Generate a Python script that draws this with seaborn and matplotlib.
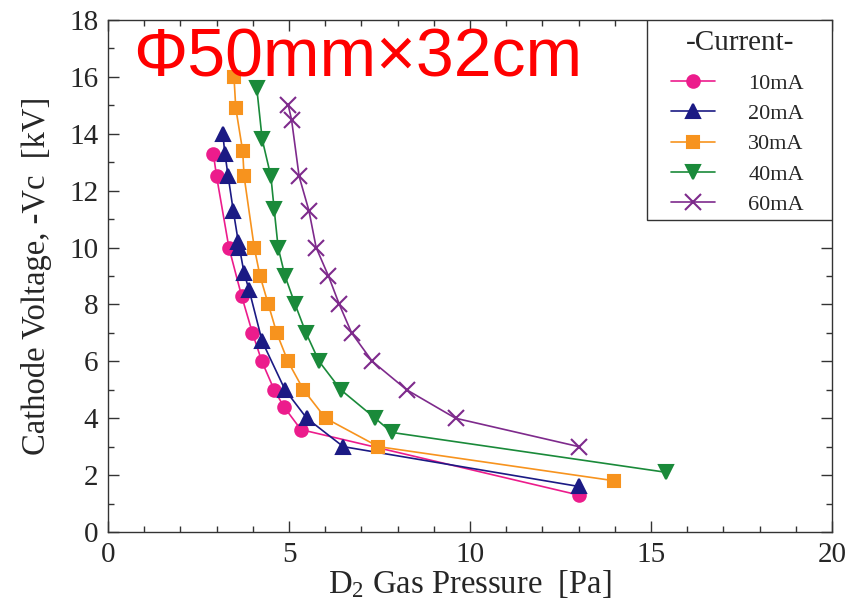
import numpy as np
import pandas as pd
import matplotlib
matplotlib.use("Agg")
import matplotlib.pyplot as plt
import seaborn as sns
from matplotlib.ticker import MultipleLocator
from matplotlib.patches import Rectangle

# ---- data ----
currents = ["10mA", "20mA", "30mA", "40mA", "60mA"]
p10 = [2.91, 3.00, 3.34, 3.69, 3.99, 4.25, 4.59, 4.86, 5.33, 13.00]
v10 = [13.3, 12.5, 10.0, 8.3, 7.0, 6.0, 5.0, 4.4, 3.6, 1.3]
p20 = [3.17, 3.23, 3.32, 3.46, 3.60, 3.63, 3.76, 3.90, 4.26, 4.89, 5.49, 6.50, 13.01]
v20 = [14.0, 13.3, 12.5, 11.3, 10.2, 10.0, 9.1, 8.5, 6.7, 5.0, 4.0, 3.0, 1.6]
p30 = [3.48, 3.53, 3.72, 3.76, 4.04, 4.20, 4.43, 4.66, 4.97, 5.40, 6.01, 7.47, 13.99]
v30 = [16.0, 14.9, 13.4, 12.5, 10.0, 9.0, 8.0, 7.0, 6.0, 5.0, 4.0, 3.0, 1.8]
p40 = [4.11, 4.26, 4.50, 4.59, 4.70, 4.89, 5.17, 5.47, 5.83, 6.43, 7.38, 7.84, 15.41]
v40 = [15.6, 13.8, 12.5, 11.35, 10.0, 9.0, 8.0, 7.0, 6.0, 5.0, 4.0, 3.5, 2.1]
p60 = [4.98, 5.07, 5.28, 5.55, 5.75, 6.09, 6.39, 6.73, 7.30, 8.25, 9.60, 13.01]
v60 = [15.0, 14.5, 12.5, 11.3, 10.0, 9.0, 8.0, 7.0, 6.0, 5.0, 4.0, 3.0]

pressures = [p10, p20, p30, p40, p60]
voltages = [v10, v20, v30, v40, v60]

colors = {"10mA": "#EC1C8C", "20mA": "#1B1A84", "30mA": "#F7931E",
          "40mA": "#1A8A3A", "60mA": "#7E2A8C"}
markers = {"10mA": "o", "20mA": "^", "30mA": "s", "40mA": "v", "60mA": "x"}
msizes = {"10mA": 9, "20mA": 10, "30mA": 9, "40mA": 10, "60mA": 11}

sns.set_style("white")
plt.rcParams["font.family"] = ["Liberation Serif", "DejaVu Serif"]
plt.rcParams["mathtext.fontset"] = "custom"
plt.rcParams["mathtext.rm"] = "Liberation Serif"
plt.rcParams["mathtext.it"] = "Liberation Serif"

fig = plt.figure(figsize=(8.58, 6.03), dpi=100)
ax = fig.add_axes([108 / 858, 1 - 532 / 603, 724 / 858, 512 / 603])

for c, ps, vs in zip(currents, pressures, voltages):
    d = pd.DataFrame({"Pressure": ps, "Voltage": vs})
    sns.lineplot(data=d, x="Pressure", y="Voltage", sort=False, estimator=None,
                 color=colors[c], marker=markers[c], markersize=msizes[c],
                 markeredgecolor=colors[c], markeredgewidth=1.5,
                 linewidth=1.2, label=c, ax=ax)

ax.set_xlim(0, 20)
ax.set_ylim(0, 18)
ax.xaxis.set_major_locator(MultipleLocator(5))
ax.xaxis.set_minor_locator(MultipleLocator(1))
ax.yaxis.set_major_locator(MultipleLocator(2))
ax.yaxis.set_minor_locator(MultipleLocator(1))
ax.tick_params(which="both", direction="in", top=True, right=True,
               bottom=True, left=True, color="#333333", width=1.0)
ax.tick_params(which="major", length=8, labelsize=21, pad=7)
ax.tick_params(which="minor", length=4.5)
for s in ax.spines.values():
    s.set_color("#333333")
    s.set_linewidth(1.0)

ax.set_xlabel(r"D$_2$ Gas Pressure  [Pa]", fontsize=23.5, labelpad=0)
ax.set_ylabel("Cathode Voltage, -Vc  [kV]", fontsize=23.5, labelpad=12)

ax.text(0.035, 0.988, "Φ50mm×32cm", transform=ax.transAxes, color="#FF0000",
        fontsize=49, family=["Liberation Sans", "DejaVu Sans"], va="top", ha="left")

# legend: frame + title + entries
frame = Rectangle((0.7445, 0.609), 0.2555, 0.391, transform=ax.transAxes,
                  facecolor="white", edgecolor="#333333", linewidth=1.0, zorder=4)
ax.add_patch(frame)
ax.text(0.873, 0.955, "-Current-", transform=ax.transAxes, fontsize=21,
        ha="center", va="center", zorder=5)
handles, labels = ax.get_legend_handles_labels()
leg = ax.legend(handles, labels, loc="upper left", bbox_to_anchor=(0.777, 0.896),
                borderaxespad=0.0, borderpad=0.0, frameon=False, fontsize=16,
                handlelength=2.0, handletextpad=1.5, labelspacing=0.44)
leg.set_zorder(6)

fig.savefig("out.png", dpi=100)
